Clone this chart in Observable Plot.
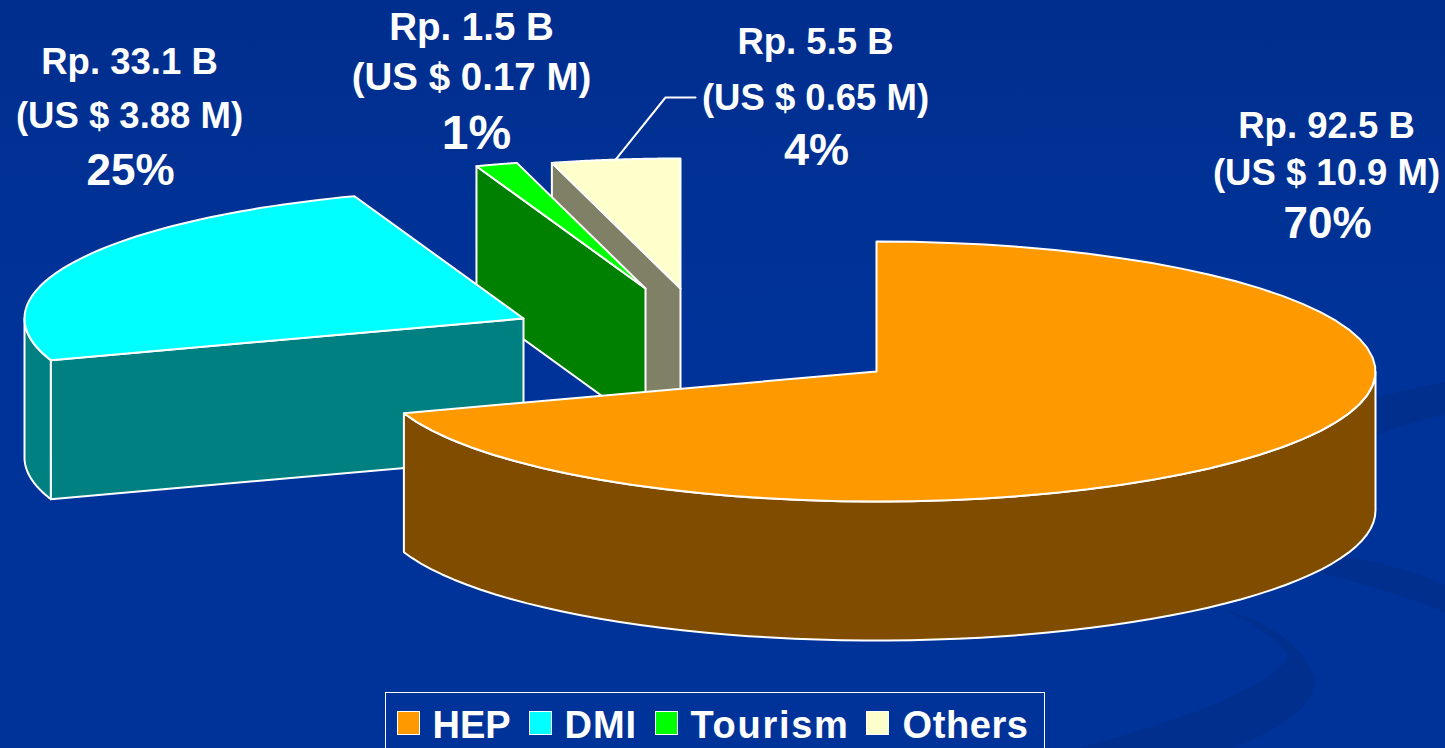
<!DOCTYPE html>
<html>
<head>
<meta charset="utf-8">
<script src="https://cdn.jsdelivr.net/npm/d3@7"></script>
<script src="https://cdn.jsdelivr.net/npm/@observablehq/plot@0.6"></script>
<style>
  html, body { margin: 0; padding: 0; width: 1445px; height: 748px; overflow: hidden; }
  body {
    position: relative;
    font-family: "Liberation Sans", Arial, sans-serif;
    background-color: #003399;
    background-image:
      url("data:image/svg+xml;utf8,<svg xmlns='http://www.w3.org/2000/svg' width='1445' height='748'><g fill='%23002f8e'><path d='M1360 403 Q1400 390 1445 382 L1445 415 Q1400 424 1360 442 Z'/><path d='M1340 555 Q1400 565 1445 585 L1445 612 Q1390 590 1310 570 Z'/><path d='M1217 607 Q1300 630 1315 680 Q1315 715 1233 748 L1080 748 Q1270 695 1288 657 Q1280 635 1217 607 Z'/></g></svg>"),
      linear-gradient(#002e8e 0, #003399 45%);
    background-repeat: no-repeat;
  }
  #chart svg { display: block; background: transparent; }
  #legend {
    position: absolute; left: 385px; top: 692px; width: 658px; height: 80px;
    border: 1.5px solid #fff; box-sizing: content-box;
    color: #fff; font-weight: 700; font-size: 38px; line-height: 44px;
  }
  #legend .sw { width: 21px; height: 22px; border: 1.5px solid #fff; margin-top: 8px; flex: none; }
  #legend .it { display: flex; position: absolute; top: 10px; }
  #legend .it span.t { margin-left: 13px; white-space: nowrap; }
</style>
</head>
<body>
<div id="chart"></div>
<div id="legend"></div>
<script>
// ---- chart values ----
const categories = ["HEP", "DMI", "Tourism", "Others"];
const rupiahB    = ["92.5", "33.1", "1.5", "5.5"];
const usdM       = ["10.9", "3.88", "0.17", "0.65"];
const percents   = [70, 25, 1, 4];
// slice sweeps (percent of the circle)
const sliceSweeps = [69.8, 24.7, 1.35, 4.15];

// ---- styles ----
const topColors  = ["#ff9900", "#00ffff", "#00ff00", "#ffffcc"];
const wallColors = ["#804d00", "#008080", "#008000", "#808066"];

// ---- layout of the tilted pie ----
const W = 1445, H = 690;
const rx = 499, ry = 130, depth = 139;
const apexes = [[876, 371], [523, 318], [645, 288], [680, 288]];
const labelLayout = [
  {x: 1326, y: [137, 184, 237], pctX: 1327, size: 36.5, pctSize: 44},
  {x: 129,  y: [73, 127, 184],  pctX: 130,  size: 36.5, pctSize: 44},
  {x: 471,  y: [39, 89, 148],   pctX: 476,  size: 38.5, pctSize: 48},
  {x: 815,  y: [53, 109, 164],  pctX: 816,  size: 36.5, pctSize: 45}
];
const legendLefts = [397, 529, 655, 866];
const legendTracking = [0, 1, 1.7, 0.6];
const legendTextGap = [13, 13, 13, 14];

// ---- derive geometry from the values ----
const total = d3.sum(sliceSweeps);
const cum = d3.cumsum(sliceSweeps);
const slices = categories.map((name, i) => ({
  name, i,
  a0: (i ? cum[i - 1] : 0) / total * 2 * Math.PI,
  a1: cum[i] / total * 2 * Math.PI
}));
const rim = (s, a, dz = 0) => ({
  x: apexes[s.i][0] + rx * Math.sin(a),
  y: apexes[s.i][1] - ry * Math.cos(a) + dz
});
const arc = (s, a0, a1, dz = 0) =>
  d3.range(0, 61).map(k => rim(s, a0 + (a1 - a0) * k / 60, dz));
const apex = (s, dz = 0) => ({x: apexes[s.i][0], y: apexes[s.i][1] + dz});

const topFace = s => [apex(s), ...arc(s, s.a0, s.a1)];
const cutFace = (s, a) => [apex(s), rim(s, a), rim(s, a, depth), apex(s, depth)];
const rimFace = (s, a0, a1) => [...arc(s, a0, a1), ...arc(s, a1, a0, depth)];

const [hep, dmi, tourism, others] = slices;
const faces = [
  [cutFace(others, others.a0), wallColors[3]],
  [topFace(others), topColors[3]],
  [cutFace(tourism, tourism.a0), wallColors[2]],
  [topFace(tourism), topColors[2]],
  [rimFace(dmi, dmi.a0, 1.5 * Math.PI), wallColors[1]],
  [cutFace(dmi, dmi.a0), wallColors[1]],
  [topFace(dmi), topColors[1]],
  [rimFace(hep, 0.5 * Math.PI, hep.a1), wallColors[0]],
  [topFace(hep), topColors[0]]
];

const line = (pts, fill) => Plot.line(pts, {
  x: "x", y: "y", fill, stroke: "#fff", strokeWidth: 2,
  strokeLinejoin: "round", curve: "linear-closed"
});

// leader line for Others: from the middle of its rim to its label
const othersMid = rim(others, (others.a0 + others.a1) / 2);
const othersLabel = labelLayout[3];
const leader = [
  othersMid,
  {x: othersLabel.x - 150, y: othersLabel.y[1] - 12},
  {x: othersLabel.x - 120, y: othersLabel.y[1] - 12}
];

const labelRows = categories.flatMap((c, i) => {
  const l = labelLayout[i];
  return [
    {x: l.x, y: l.y[0], t: `Rp. ${rupiahB[i]} B`, s: l.size},
    {x: l.x, y: l.y[1], t: `(US $ ${usdM[i]} M)`, s: l.size},
    {x: l.pctX, y: l.y[2], t: `${percents[i]}%`, s: l.pctSize}
  ];
});
const textMarks = [...new Set(labelRows.map(d => d.s))].map(size =>
  Plot.text(labelRows.filter(d => d.s === size), {
    x: "x", y: "y", text: "t", fill: "#fff", fontSize: size,
    fontWeight: 700, fontFamily: "Liberation Sans", textAnchor: "middle", lineAnchor: "bottom"
  }));

const chart = Plot.plot({
  width: W, height: H, margin: 0,
  x: {domain: [0, W], range: [0, W], axis: null},
  y: {domain: [0, H], range: [0, H], axis: null},
  style: {background: "transparent", overflow: "visible"},
  marks: [
    ...faces.map(([pts, fill]) => line(pts, fill)),
    Plot.line(leader, {x: "x", y: "y", stroke: "#fff", strokeWidth: 2}),
    ...textMarks
  ]
});
document.getElementById("chart").append(chart);

// legend below the svg
const legend = document.getElementById("legend");
categories.forEach((c, i) => {
  const it = document.createElement("div");
  it.className = "it";
  it.style.left = (legendLefts[i] - 385 - 1.5) + "px";
  it.innerHTML = `<span class="sw" style="background:${topColors[i]}"></span><span class="t" style="letter-spacing:${legendTracking[i]}px;margin-left:${legendTextGap[i]}px">${c}</span>`;
  legend.append(it);
});
</script>
</body>
</html>
